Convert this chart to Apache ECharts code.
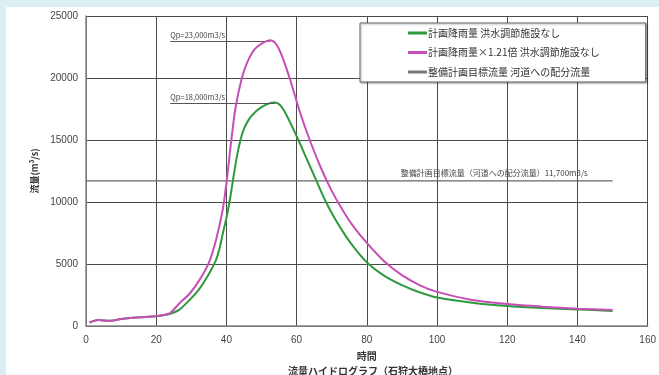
<!DOCTYPE html>
<html>
<head>
<meta charset="utf-8">
<script src="https://cdn.jsdelivr.net/npm/echarts@6/dist/echarts.min.js"></script>
<style>
  html, body { margin: 0; padding: 0; background: #dcedf4; }
  #panel { position: absolute; left: 6px; top: 7px; width: 653px; height: 368px; background: #ffffff; }
  #chart { position: absolute; left: 0; top: 0; width: 659px; height: 375px; }
</style>
</head>
<body>
<div id="panel"></div>
<div id="chart"></div>
<script>
// ---- data ----
const seriesNames = ['計画降雨量 洪水調節施設なし', '計画降雨量×1.21倍 洪水調節施設なし', '整備計画目標流量 河道への配分流量'];
const xTicks = [0, 20, 40, 60, 80, 100, 120, 140, 160];
const yTicks = [0, 5000, 10000, 15000, 20000, 25000];

// green: planned rainfall, no flood control facilities  [time(h), flow(m3/s)]
const greenData = [
  [1, 280], [3.5, 480], [5, 450], [7, 430], [10, 560], [13.5, 670], [17, 730], [20, 790], [22, 870],
  [24, 990], [26.5, 1300], [29.5, 2100], [32.3, 3000], [35, 4200], [37, 5300], [38, 6200], [39, 7500],
  [40, 8700], [41, 10200], [42, 12000], [43, 13700], [44, 15000], [45, 15900], [46.5, 16700],
  [48, 17200], [50, 17650], [52, 17930], [53.8, 18020], [55.5, 17750], [57.5, 16800], [60.5, 15000],
  [63, 13400], [65.5, 11800], [68, 10200], [71, 8600], [74, 7250], [77, 6100], [80.5, 5000],
  [85, 4050], [90, 3300], [95, 2720], [100, 2300], [110, 1880], [120, 1610], [130, 1450],
  [140, 1340], [150, 1210]
];

// magenta: planned rainfall x1.21, no flood control facilities
const magentaData = [
  [1, 280], [3.5, 480], [5, 450], [7, 430], [10, 560], [13.5, 670], [17, 730], [20, 790], [22, 880],
  [24, 1050], [26.5, 1800], [29.5, 2600], [32.3, 3700], [35, 5100], [37, 6900], [38.9, 9300],
  [40, 11500], [41.4, 15000], [42.6, 17600], [44.4, 20000], [46, 21300], [48, 22300], [50.5, 22850],
  [52.4, 23050], [54, 22800], [55.5, 22000], [58, 20000], [61, 17200], [64, 14800], [67, 12700],
  [70, 10900], [73, 9400], [76, 8100], [80, 6700], [85, 5200], [90, 4100], [95, 3300],
  [100, 2750], [110, 2100], [120, 1770], [130, 1560], [140, 1400], [150, 1290]
];

// gray: target discharge line
const targetValue = 11700;
const targetData = [[0, targetValue], [150, targetValue]];
const targetLabel = '整備計画目標流量（河道への配分流量）11,700m3/s';
const targetLabelSpan = [89.8, 142.8];

// peak annotations
const peakMagenta = { label: 'Qp=23,000m3/s', from: [24, 23000], to: [52.4, 23000] };
const peakGreen = { label: 'Qp=18,000m3/s', from: [24, 18000], to: [53.8, 18000] };

const xName = '時間';
const yName = '流量(m³/s)';
const titleText = '流量ハイドログラフ（石狩大橋地点）';

// ---- chart ----
const chart = echarts.init(document.getElementById('chart'), null, { renderer: 'canvas' });
const fontCJK = '"Noto Sans CJK JP", "Noto Sans", sans-serif';

function peakMarkLine(p) {
  return {
    silent: true,
    symbol: ['none', 'none'],
    animation: false,
    lineStyle: { color: '#555', width: 1, type: 'solid' },
    label: {
      show: true,
      position: 'insideStartTop',
      formatter: p.label,
      fontSize: 7.5,
      color: '#444',
      fontFamily: fontCJK,
      distance: [0, 2]
    },
    data: [[{ coord: p.from }, { coord: p.to }]]
  };
}

const option = {
  backgroundColor: 'transparent',
  animation: false,
  title: {
    text: titleText,
    left: 368,
    textAlign: 'center',
    top: 361,
    textStyle: { fontSize: 10, fontWeight: 'bold', color: '#333', fontFamily: fontCJK }
  },
  grid: { left: 86, right: 8, top: 16, bottom: 49, containLabel: false },
  legend: {
    left: 360,
    top: 23,
    orient: 'vertical',
    data: seriesNames,
    icon: 'rect',
    itemWidth: 19,
    itemHeight: 3,
    itemGap: 9.5,
    padding: [5, 46, 5, 48],
    backgroundColor: '#fff',
    borderColor: '#666',
    borderWidth: 1,
    shadowColor: 'rgba(0,0,0,0.35)',
    shadowBlur: 2,
    shadowOffsetX: 1,
    shadowOffsetY: 1,
    textStyle: { fontSize: 10, color: '#333', fontFamily: fontCJK, padding: [0, 0, 0, -4] }
  },
  xAxis: {
    type: 'value',
    min: 0,
    max: 160,
    interval: 20,
    name: xName,
    nameLocation: 'middle',
    nameGap: 25,
    nameTextStyle: { fontSize: 10, fontWeight: 'bold', color: '#333', fontFamily: fontCJK },
    axisLine: { show: true, lineStyle: { color: '#888', width: 1.5 } },
    axisTick: { show: false },
    axisLabel: { fontSize: 10, color: '#444', margin: 9, fontFamily: '"Liberation Sans", Arial, sans-serif',
      formatter: v => (xTicks.indexOf(v) >= 0 ? String(v) : '') },
    splitLine: { show: true, lineStyle: { color: '#4a4a4a', width: 1 } }
  },
  yAxis: {
    type: 'value',
    min: 0,
    max: 25000,
    interval: 5000,
    name: yName,
    nameLocation: 'middle',
    nameRotate: 90,
    nameGap: 35,
    nameTextStyle: { fontSize: 9, fontWeight: 'bold', color: '#333', fontFamily: fontCJK },
    axisLine: { show: true, lineStyle: { color: '#888', width: 1.5 } },
    axisTick: { show: false },
    axisLabel: { fontSize: 10, color: '#444', margin: 8, fontFamily: '"Liberation Sans", Arial, sans-serif',
      formatter: v => (yTicks.indexOf(v) >= 0 ? String(v) : '') },
    splitLine: { show: true, lineStyle: { color: '#4a4a4a', width: 1 } }
  },
  series: [
    {
      name: seriesNames[0],
      type: 'line',
      data: greenData,
      smooth: 0.3,
      showSymbol: false,
      color: '#2e9a3e',
      lineStyle: { width: 2, color: '#2e9a3e' },
      z: 4,
      markLine: peakMarkLine(peakGreen)
    },
    {
      name: seriesNames[1],
      type: 'line',
      data: magentaData,
      smooth: 0.3,
      showSymbol: false,
      color: '#c54fb4',
      lineStyle: { width: 2, color: '#c54fb4' },
      z: 5,
      markLine: peakMarkLine(peakMagenta)
    },
    {
      name: seriesNames[2],
      type: 'line',
      data: targetData,
      showSymbol: false,
      color: '#777',
      lineStyle: { width: 1.3, color: '#666' },
      z: 3,
      markLine: {
        silent: true,
        symbol: ['none', 'none'],
        lineStyle: { color: 'rgba(0,0,0,0)', width: 1 },
        label: {
          show: true,
          position: 'insideMiddleTop',
          formatter: targetLabel,
          fontSize: 8,
          color: '#444',
          fontFamily: fontCJK,
          distance: 4
        },
        data: [[{ coord: [targetLabelSpan[0], targetValue] }, { coord: [targetLabelSpan[1], targetValue] }]]
      }
    }
  ]
};
chart.setOption(option);
</script>
</body>
</html>
